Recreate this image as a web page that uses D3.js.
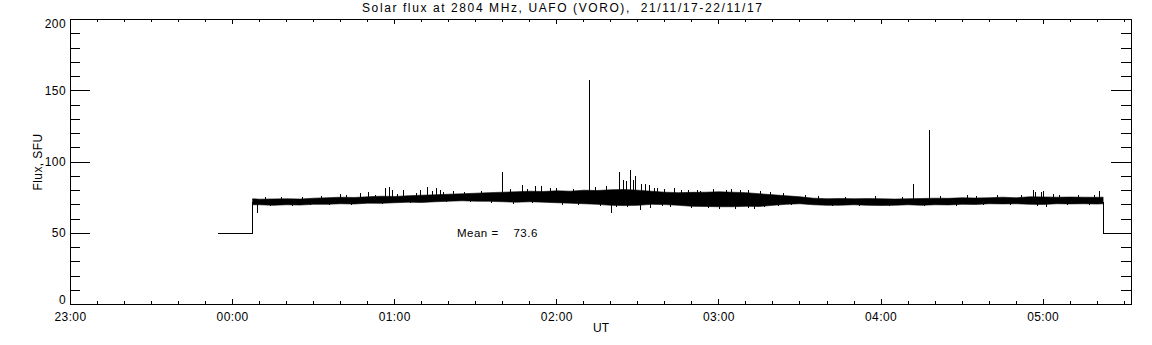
<!DOCTYPE html>
<html>
<head>
<meta charset="utf-8">
<script src="https://cdn.jsdelivr.net/npm/d3@7"></script>
<style>
  body { margin: 0; background: #fff; }
  text { font-family: "Liberation Sans", "DejaVu Sans", sans-serif; fill: #000; }
</style>
</head>
<body>
<div id="app"></div>
<script>
// minutes relative to 00:00 UT on 22/11/17
let xTickMinutes = [-60, 0, 60, 120, 180, 240, 300]
let xTickLabels = ["23:00", "00:00", "01:00", "02:00", "03:00", "04:00", "05:00"]
let yTicks = [0, 50, 100, 150, 200]

// 50 SFU fill before and after the observation
let startT = [-5.3, 7.4, 7.4]
let startV = [50, 50, 72]
let endT = [322.2, 322.2, 332.7]
let endV = [72, 50, 50]

let bandT = [7.4, 10, 15, 20, 25, 30, 35, 40, 45, 50, 55, 60, 65, 70, 75, 80, 85, 90, 95, 100,
  105, 110, 115, 120, 125, 130, 135, 140, 145, 150, 155, 160, 165, 170, 175, 180, 185, 190, 195, 200,
  205, 210, 215, 220, 225, 230, 235, 240, 245, 250, 255, 260, 265, 270, 275, 280, 285, 290, 295, 300,
  305, 310, 315, 320, 322.2]
let bandHi = [74.2, 73.9, 74.1, 74.2, 74.0, 74.6, 74.9, 75.3, 75.1, 75.6, 76.0, 75.8, 76.3, 76.7, 77.0, 77.4, 77.7, 78.1, 78.5, 78.8,
  79.1, 79.5, 79.3, 79.8, 79.5, 80.2, 80.0, 80.5, 80.7, 80.2, 79.5, 78.8, 78.5, 78.7, 78.8, 79.1, 78.8, 78.5, 77.7, 77.0,
  76.3, 75.6, 74.6, 74.2, 74.4, 74.2, 74.3, 74.2, 74.0, 74.2, 74.4, 74.6, 74.5, 74.9, 74.7, 74.9, 75.3, 74.9, 75.6, 75.5,
  75.3, 75.4, 75.3, 75.2, 75.3]
let bandLo = [70.0, 70.0, 69.6, 70.0, 69.8, 70.3, 70.3, 70.7, 70.5, 71.1, 71.0, 71.4, 71.8, 71.6, 72.1, 72.5, 72.8, 72.5, 72.4, 72.1,
  71.8, 72.1, 71.8, 71.4, 71.1, 70.7, 70.3, 69.6, 69.4, 69.6, 70.3, 70.1, 69.6, 68.9, 68.8, 68.6, 68.6, 68.9, 68.8, 69.6,
  70.3, 70.7, 70.0, 69.6, 69.7, 70.0, 69.6, 69.5, 69.6, 70.0, 69.6, 70.0, 69.9, 70.3, 70.2, 70.7, 70.6, 70.7, 70.3, 70.2,
  70.7, 70.6, 70.7, 70.5, 70.7]

// single-sample spikes and dips
let spikeT = [9.2, 39.8, 47.2, 50.3, 56.5, 58, 59.3, 63.2, 69.4, 72.1, 74.1, 75.6, 76.8, 81.7,
  99.9, 107.4, 112, 114.4, 117.5, 132, 134.4, 138.5, 140.2, 143.1, 144.6, 145.9, 147.2, 148.3, 149,
  150.8, 151.4, 152.9, 154.2, 154.5, 157.2, 160, 163.7, 168.7, 173, 180.2, 182.9, 184.7, 190.9, 193, 195.2,
  251.9, 257.8, 275.4, 296.3, 297, 299.4, 300, 301.2, 303.7, 320.7]
let spikeV = [63.8, 77.4, 77.9, 78.3, 81.4, 82.1, 80.2, 79.7, 80.2, 82.1, 79.5, 81.4, 80.2, 79.5,
  92.4, 83.7, 83, 83, 81.4, 156.9, 82.1, 82.5, 63.8, 92.4, 87.2, 86, 94.3, 86.7, 89.6,
  66.1, 84.4, 84.4, 83.7, 67.3, 81.4, 80.7, 81.4, 80.2, 79, 66.6, 80.2, 80.5, 79.8, 66.6, 79.5,
  84.4, 122.4, 76.0, 79.7, 78.5, 78.5, 79, 68.4, 77.4, 79]

// smaller excursions along the edges of the noise band
let fuzzT = [12, 14, 18, 22, 26, 29, 33, 36, 42, 44, 53, 55.5, 61, 66, 68, 78, 79, 86, 88, 92,
  96, 103, 104, 109, 111, 120, 122, 126, 128, 136, 142, 146, 156, 159, 162, 166, 170, 172, 176, 178,
  186, 188, 191, 197, 199, 202, 204, 207, 212, 217, 222, 227, 232, 238, 243, 248, 256, 262, 268, 272,
  278, 283, 288, 292, 298, 306, 309, 313, 317, 319]
let fuzzV = [75.2, 68.9, 75.0, 69.0, 75.3, 69.2, 75.6, 69.4, 76.2, 69.6, 76.8, 70.1, 77.1, 70.6, 77.8, 78.5, 71.3, 78.8, 71.5, 79.5,
  71.0, 80.5, 70.5, 81.0, 70.8, 81.5, 69.8, 81.0, 69.5, 68.5, 67.8, 68.0, 81.5, 68.6, 68.2, 80.2, 67.4, 80.0, 67.3, 80.5,
  67.0, 80.3, 67.4, 67.8, 78.6, 68.5, 77.8, 69.3, 76.8, 75.8, 68.6, 75.4, 68.7, 75.6, 68.6, 75.3, 68.6, 75.8, 69.0, 76.2,
  69.3, 76.4, 69.3, 76.6, 68.9, 76.5, 69.5, 76.6, 69.6, 76.4]

let meanValue = 73.6

let width = 1152
let height = 345

let svg = d3.select("#app").append("svg")
    .attr("width", width)
    .attr("height", height)

let x = d3.scaleLinear().domain([-60, 332.7]).range([70, 1131])
let y = d3.scaleLinear().domain([0, 200]).range([304, 19])

let minorX = d3.range(-60, 332, 10).filter(t => t % 60 !== 0)
let minorY = d3.range(0, 201, 10).filter(v => v % 50 !== 0)

function fmtX(t) {
    return xTickLabels[xTickMinutes.indexOf(t)]
}

// bottom axis
svg.append("g").attr("transform", "translate(0,304)")
    .call(d3.axisBottom(x).tickValues(xTickMinutes).tickSize(-5).tickSizeOuter(0).tickPadding(8).tickFormat(fmtX))
svg.append("g").attr("transform", "translate(0,304)")
    .call(d3.axisBottom(x).tickValues(minorX).tickSize(-3).tickFormat(""))
    .call(g => g.select(".domain").remove())

// top axis
svg.append("g").attr("transform", "translate(0,19)")
    .call(d3.axisTop(x).tickValues(xTickMinutes).tickSize(-5).tickSizeOuter(0).tickFormat(""))
svg.append("g").attr("transform", "translate(0,19)")
    .call(d3.axisTop(x).tickValues(minorX).tickSize(-3).tickFormat(""))
    .call(g => g.select(".domain").remove())

// left axis
let left = svg.append("g").attr("transform", "translate(70,0)")
    .call(d3.axisLeft(y).tickValues(yTicks).tickSize(-20).tickSizeOuter(0).tickPadding(4))
left.selectAll(".tick text")
    .attr("dy", d => d === 0 ? "-0.05em" : d === 200 ? "0.7em" : "0.35em")
svg.append("g").attr("transform", "translate(70,0)")
    .call(d3.axisLeft(y).tickValues(minorY).tickSize(-10).tickFormat(""))
    .call(g => g.select(".domain").remove())

// right axis
svg.append("g").attr("transform", "translate(1131,0)")
    .call(d3.axisRight(y).tickValues(yTicks).tickSize(-20).tickSizeOuter(0).tickFormat(""))
svg.append("g").attr("transform", "translate(1131,0)")
    .call(d3.axisRight(y).tickValues(minorY).tickSize(-10).tickFormat(""))
    .call(g => g.select(".domain").remove())

svg.selectAll(".tick text")
    .attr("font-size", 12)
    .attr("letter-spacing", 0.4)
    .attr("font-family", "Liberation Sans, DejaVu Sans, sans-serif")
svg.selectAll(".domain, .tick line").attr("stroke", "#000").attr("shape-rendering", "crispEdges")

// data
let plot = svg.append("g")

let line = d3.line().x(d => x(d[0]) + 0.5).y(d => y(d[1]) + 0.5)
plot.append("path")
    .attr("d", line(d3.zip(startT, startV)))
    .attr("fill", "none").attr("stroke", "#000").attr("shape-rendering", "crispEdges")
plot.append("path")
    .attr("d", line(d3.zip(endT, endV)))
    .attr("fill", "none").attr("stroke", "#000").attr("shape-rendering", "crispEdges")

let area = d3.area()
    .x(d => x(d[0]) + 0.5)
    .y0(d => y(d[2]) + 0.5)
    .y1(d => y(d[1]) + 0.5)
plot.append("path")
    .attr("d", area(d3.zip(bandT, bandHi, bandLo)))
    .attr("fill", "#000")
    .attr("stroke", "#000")
    .attr("stroke-width", 0.6)

let whiskers = d3.zip(spikeT, spikeV).concat(d3.zip(fuzzT, fuzzV))
plot.selectAll("line.spike")
    .data(whiskers)
    .enter().append("line")
    .attr("class", "spike")
    .attr("x1", d => Math.round(x(d[0])) + 0.5)
    .attr("x2", d => Math.round(x(d[0])) + 0.5)
    .attr("y1", y(73))
    .attr("y2", d => y(d[1]))
    .attr("stroke", "#000")
    .attr("shape-rendering", "crispEdges")

// texts
svg.append("text")
    .attr("x", 457).attr("y", 237)
    .attr("font-size", 11.5)
    .attr("letter-spacing", 0.5)
    .style("white-space", "pre")
    .text("Mean =    " + meanValue.toFixed(1))

svg.append("text")
    .attr("x", 362).attr("y", 12)
    .attr("font-size", 12)
    .attr("textLength", 400)
    .style("white-space", "pre")
    .text("Solar flux at 2804 MHz, UAFO (VORO),  21/11/17-22/11/17")

svg.append("text")
    .attr("x", 601).attr("y", 332)
    .attr("text-anchor", "middle")
    .attr("font-size", 12)
    .text("UT")

svg.append("text")
    .attr("transform", "translate(42,162) rotate(-90)")
    .attr("text-anchor", "middle")
    .attr("font-size", 12)
    .attr("letter-spacing", 0.4)
    .text("Flux, SFU")
</script>
</body>
</html>
